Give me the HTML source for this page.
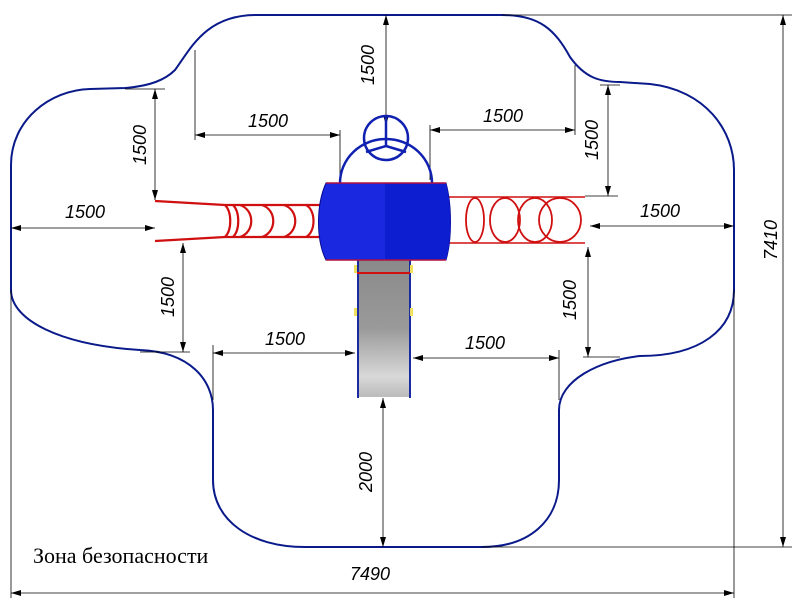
<!DOCTYPE html>
<html><head><meta charset="utf-8"><style>html,body{margin:0;padding:0;background:#fff}svg{display:block}</style></head>
<body>
<svg width="800" height="600" viewBox="0 0 800 600" xmlns="http://www.w3.org/2000/svg">
<defs>
<marker id="a" viewBox="0 0 10 6" refX="10" refY="3" markerWidth="10" markerHeight="6" orient="auto-start-reverse" markerUnits="userSpaceOnUse"><path d="M0,0 L10,3 L0,6 Z" fill="#000"/></marker>
<linearGradient id="g" x1="0" y1="0" x2="0" y2="1"><stop offset="0" stop-color="#8a8a8a"/><stop offset="0.5" stop-color="#9a9a9a"/><stop offset="0.85" stop-color="#d8d8d8"/><stop offset="1" stop-color="#bbb"/></linearGradient>
</defs>
<path d="M256,15 L502,15 C540,15 555,30 570,57 C585,78 600,82 620,82 L650,84 C705,90 734,130 734,170 L734,290 C734,330 700,356 640,356 C600,360 559,380 559,410 L559,480 C559,520 530,547 482,547 L305,547 C250,547 213,520 213,480 L213,410 C213,380 190,352 140,350 C60,345 11,320 11,290 L11,165 C11,120 50,90 90,89 L125,88 C150,86 165,80 175,70 C190,50 205,15 256,15 Z" fill="none" stroke="#0a1a8a" stroke-width="2"/>
<g stroke="#000" stroke-width="0.8" fill="none">
<line x1="502" y1="15" x2="792" y2="15"/><line x1="482" y1="547" x2="792" y2="547"/>
<line x1="783" y1="15" x2="783" y2="547" marker-start="url(#a)" marker-end="url(#a)"/>
<line x1="11" y1="290" x2="11" y2="598"/><line x1="734" y1="290" x2="734" y2="598"/>
<line x1="11" y1="593" x2="734" y2="593" marker-start="url(#a)" marker-end="url(#a)"/>
<line x1="386" y1="15" x2="386" y2="125" marker-start="url(#a)" marker-end="url(#a)"/>
<line x1="195" y1="50" x2="195" y2="140"/><line x1="340" y1="130" x2="340" y2="180"/>
<line x1="195" y1="135" x2="340" y2="135" marker-start="url(#a)" marker-end="url(#a)"/>
<line x1="430" y1="125" x2="430" y2="180"/><line x1="575" y1="65" x2="575" y2="135"/>
<line x1="430" y1="130" x2="575" y2="130" marker-start="url(#a)" marker-end="url(#a)"/>
<line x1="125" y1="89" x2="165" y2="89"/>
<line x1="155" y1="89" x2="155" y2="200" marker-start="url(#a)" marker-end="url(#a)"/>
<line x1="600" y1="85" x2="620" y2="85"/><line x1="585" y1="196" x2="618" y2="196"/>
<line x1="608" y1="85" x2="608" y2="196" marker-start="url(#a)" marker-end="url(#a)"/>
<line x1="11" y1="228" x2="155" y2="228" marker-start="url(#a)" marker-end="url(#a)"/>
<line x1="590" y1="226" x2="734" y2="226" marker-start="url(#a)" marker-end="url(#a)"/>
<line x1="183" y1="243" x2="183" y2="352" marker-start="url(#a)" marker-end="url(#a)"/>
<line x1="140" y1="352" x2="190" y2="352"/>
<line x1="588" y1="247" x2="588" y2="357" marker-start="url(#a)" marker-end="url(#a)"/>
<line x1="583" y1="357" x2="620" y2="357"/>
<line x1="213" y1="345" x2="213" y2="400"/><line x1="213" y1="353" x2="355" y2="353" marker-start="url(#a)" marker-end="url(#a)"/>
<line x1="559" y1="350" x2="559" y2="400"/><line x1="413" y1="358" x2="559" y2="358" marker-start="url(#a)" marker-end="url(#a)"/>
<line x1="383" y1="398" x2="383" y2="547" marker-start="url(#a)" marker-end="url(#a)"/>
</g>
<g font-family="Liberation Sans, sans-serif" font-style="italic" font-size="18" fill="#000" text-anchor="middle">
<text x="268" y="127">1500</text><text x="503" y="122">1500</text>
<text x="85" y="218">1500</text><text x="660" y="217">1500</text>
<text x="285" y="345">1500</text><text x="485" y="349">1500</text>
<text x="370" y="580">7490</text>
<text transform="translate(374,65) rotate(-90)">1500</text>
<text transform="translate(146,145) rotate(-90)">1500</text>
<text transform="translate(598,140) rotate(-90)">1500</text>
<text transform="translate(174,297) rotate(-90)">1500</text>
<text transform="translate(576,300) rotate(-90)">1500</text>
<text transform="translate(372,472) rotate(-90)">2000</text>
<text transform="translate(777,240) rotate(-90)">7410</text>
</g>
<g stroke="#d01010" stroke-width="2.2" fill="none">
<path d="M155,201 L225,205 L320,205"/><path d="M155,241 L225,237 L320,237"/>
<path d="M225,205 C232,212 232,230 225,237"/><path d="M233,205 C240,212 240,230 233,237"/>
<path d="M240,205 C255,210 255,232 240,237"/><path d="M262,205 C277,210 277,232 262,237"/>
<path d="M284,205 C299,210 299,232 284,237"/><path d="M306,205 C316,210 316,232 306,237"/>
<line x1="445" y1="197" x2="585" y2="197" stroke-width="1.5"/><line x1="445" y1="243" x2="585" y2="243" stroke-width="1.5"/>
<ellipse cx="475" cy="220" rx="9" ry="22" stroke-width="1.8"/>
<ellipse cx="505" cy="220" rx="15" ry="22" stroke-width="1.8"/>
<ellipse cx="535" cy="220" rx="17" ry="22" stroke-width="1.8"/>
<ellipse cx="560" cy="220" rx="21" ry="22" stroke-width="1.8"/>
</g>
<rect x="357" y="260" width="53" height="137" fill="url(#g)"/>
<line x1="358" y1="260" x2="358" y2="398" stroke="#1a2aa0" stroke-width="2"/>
<line x1="410" y1="260" x2="410" y2="398" stroke="#1a2aa0" stroke-width="2"/>
<line x1="357" y1="273" x2="410" y2="273" stroke="#d01010" stroke-width="2"/>
<rect x="354" y="265" width="3" height="8" fill="#f0e060"/><rect x="410" y="265" width="3" height="8" fill="#f0e060"/>
<rect x="354" y="308" width="3" height="8" fill="#f0e060"/><rect x="410" y="308" width="3" height="8" fill="#f0e060"/>
<g stroke="#1020b0" stroke-width="2.5" fill="none">
<path d="M340,183 A46,44 0 0 1 432,183"/>
<circle cx="386" cy="138" r="22"/>
<line x1="386" y1="116" x2="386" y2="146"/><line x1="386" y1="146" x2="366" y2="152"/><line x1="386" y1="146" x2="406" y2="152"/>
</g>
<path d="M326,183 L446,183 C452,205 452,240 446,260 L326,260 C316,240 316,205 326,183 Z" fill="#1a28e0" stroke="#0a0a90" stroke-width="1"/>
<path d="M385,183 L446,183 C452,205 452,240 446,260 L385,260 Z" fill="#0c1ed0"/>
<line x1="326" y1="183" x2="446" y2="183" stroke="#b01040" stroke-width="1.5"/>
<line x1="326" y1="260" x2="446" y2="260" stroke="#b01040" stroke-width="1.5"/>
<text x="33" y="563" font-family="Liberation Serif, serif" font-size="22" fill="#000">Зона безопасности</text>
</svg>
</body></html>
